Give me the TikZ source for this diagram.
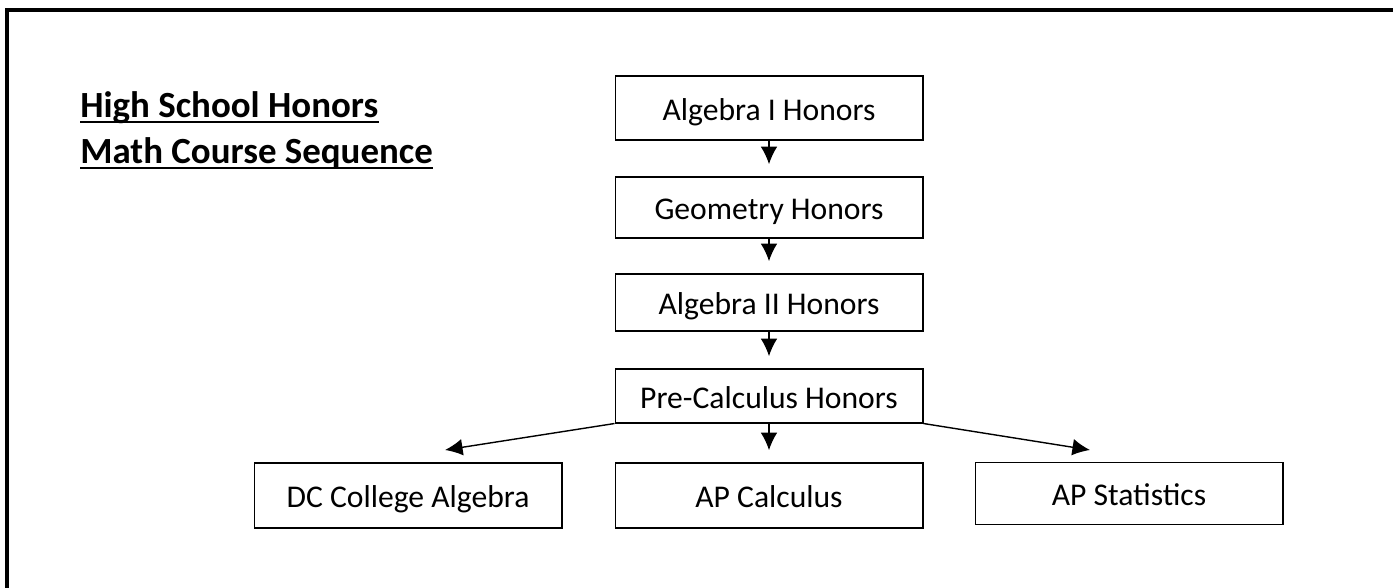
\documentclass[tikz,border=0pt]{standalone}
\usepackage{fontspec}
\setmainfont{Carlito}
\usepackage{tikz}
\usetikzlibrary{arrows,arrows.meta}
\tikzstyle{crs} = [draw, semithick, shape=rectangle, minimum width=6.16cm, inner sep=0pt, text height=16pt, text depth=2pt, font=\fontsize{18}{21}\selectfont]
\tikzstyle{ttl} = [anchor=base west, inner sep=0pt, font=\fontsize{21}{26}\selectfont\bfseries]
\tikzstyle{uln} = [style={line width=1.6pt}]
\tikzstyle{tuh} = [style={->,>={Latex[length=10pt,width=9.5pt]},style=thick,shorten >=7pt}]
\tikzstyle{frm} = [style={line width=2.3pt}]

\begin{document}
\begin{tikzpicture}[x=0.02cm,y=-0.02cm]
        \useasboundingbox (0,0) rectangle (1393,588);
        \draw[frm] (7,588) -- (7,10) -- (1393,10);
        \node[ttl] (t1) at (80,117) {High School Honors};
        \node[ttl] (t2) at (80,163) {Math Course Sequence};
        \draw[uln] ([yshift=-2.8pt]t1.base west) -- ([yshift=-2.8pt]t1.base east);
        \draw[uln] ([yshift=-2.8pt]t2.base west) -- ([yshift=-2.8pt]t2.base east);
        \node[crs,minimum height=1.28cm] (alg1) at (769,108) {Algebra I Honors};
        \node[crs,minimum height=1.22cm] (geo) at (769,207.5) {Geometry Honors};
        \node[crs,minimum height=1.14cm] (alg2) at (769,302.5) {Algebra II Honors};
        \node[crs,minimum height=1.08cm] (pre) at (769,396) {Pre-Calculus Honors};
        \node[crs,minimum height=1.3cm] (dc) at (408,495.5) {DC College Algebra};
        \node[crs,minimum height=1.3cm] (apc) at (769,495.5) {AP Calculus};
        \node[crs,minimum height=1.24cm] (aps) at (1129,493.5) {AP Statistics};
        \coordinate (dctip) at (445,450);
        \coordinate (apstip) at (1090,450);
        \draw[tuh] (alg1) edge (geo);
        \draw[tuh] (geo) edge (alg2);
        \draw[tuh] (alg2) edge (pre);
        \draw[tuh] (pre) edge (apc);
        \draw[tuh,shorten >=0pt] (pre.south west) -- (dctip);
        \draw[tuh,shorten >=0pt] (pre.south east) -- (apstip);
      \end{tikzpicture}
\end{document}
